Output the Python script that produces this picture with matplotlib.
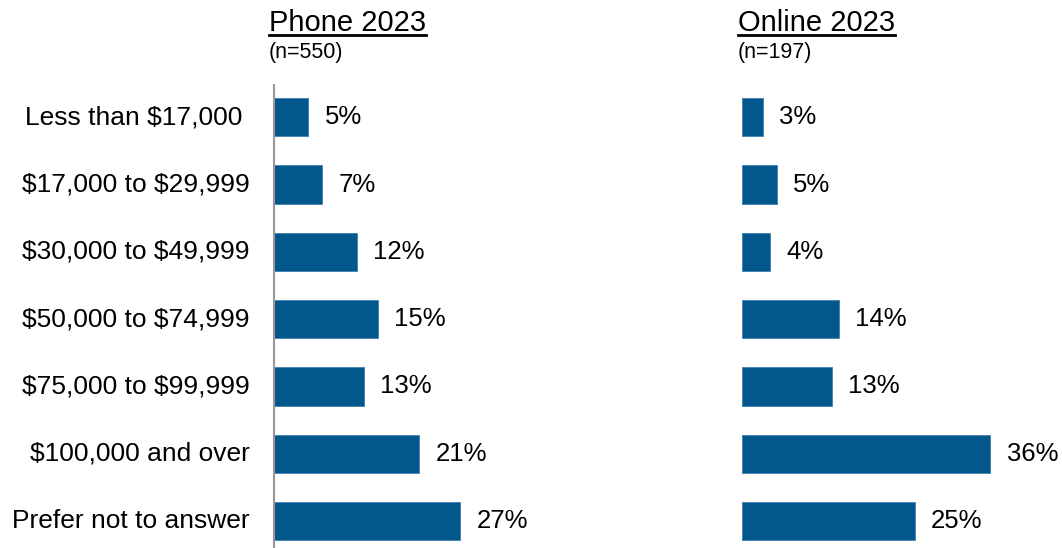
import matplotlib.pyplot as plt
from matplotlib.lines import Line2D
from matplotlib.transforms import blended_transform_factory

plt.rcParams['font.family'] = ['Liberation Sans', 'DejaVu Sans']

categories = ["Less than $17,000 ", "$17,000 to $29,999", "$30,000 to $49,999",
              "$50,000 to $74,999", "$75,000 to $99,999", "$100,000 and over",
              "Prefer not to answer"]
phone_2023 = [5, 7, 12, 15, 13, 21, 27]
online_2023 = [3, 5, 4, 14, 13, 36, 25]
panel_titles = ["Phone 2023", "Online 2023"]
panel_n = ["(n=550)", "(n=197)"]

BAR_COLOR = '#02578C'
W, H = 1062, 548

fig = plt.figure(figsize=(W / 100, H / 100), dpi=100)

# axes placed in pixel terms
ax_top = 85
panel_left = [274, 742]
title_left = [269, 738]
px_per_pct = 6.9
ax_w_px = 40 * px_per_pct

axes = []
for left in panel_left:
    ax = fig.add_axes([left / W, 0, ax_w_px / W, (H - ax_top) / H])
    axes.append(ax)

for i, (ax, vals) in enumerate(zip(axes, [phone_2023, online_2023])):
    ypos = list(range(len(categories)))
    ax.barh(ypos, vals, height=0.57, color=BAR_COLOR, edgecolor='#3f7fb0', linewidth=0.6)
    for y, v in zip(ypos, vals):
        ax.text(v + 2.4, y, f"{v}%", va='center', ha='left', fontsize=18.5, color='black')
    ax.set_xlim(0, 40)
    ax.set_ylim(6.4, -0.48)
    ax.set_xticks([])
    ax.set_yticks([])
    for s in ['top', 'right', 'bottom']:
        ax.spines[s].set_visible(False)
    if i == 0:
        ax.spines['left'].set_color('#999999')
        ax.spines['left'].set_linewidth(1.5)
    else:
        ax.spines['left'].set_visible(False)

# category labels, right-aligned left of the axis
trans = blended_transform_factory(fig.transFigure, axes[0].transData)
for y, cat in enumerate(categories):
    fig.text(250 / W, y, cat, transform=trans, ha='right', va='center',
             fontsize=19, parse_math=False)

# panel titles with underline
title_texts = []
for x, t, n in zip(title_left, panel_titles, panel_n):
    tt = fig.text(x / W, 1 - 31 / H, t, ha='left', va='baseline', fontsize=21)
    fig.text(x / W, 1 - 58 / H, n, ha='left', va='baseline', fontsize=15.5)
    title_texts.append(tt)

fig.canvas.draw()
renderer = fig.canvas.get_renderer()
for tt in title_texts:
    bb = tt.get_window_extent(renderer)
    y_line = H - 35
    fig.add_artist(Line2D([bb.x0 / W, bb.x1 / W], [y_line / H, y_line / H],
                          transform=fig.transFigure, color='black', linewidth=2))

fig.savefig('out.png', dpi=100)
